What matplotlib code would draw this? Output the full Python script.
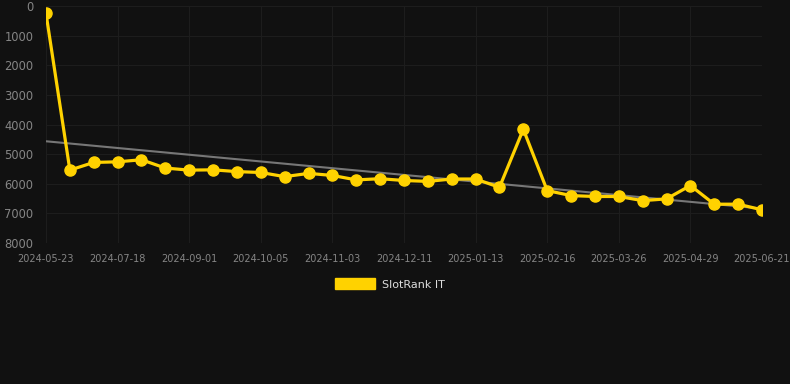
import numpy as np
import matplotlib
matplotlib.use('Agg')
import matplotlib.pyplot as plt
from matplotlib.patches import Patch

# Dữ liệu
dates = ['2024-05-23', '2024-06-10', '2024-06-29', '2024-07-18', '2024-08-03', '2024-08-17',
         '2024-09-01', '2024-09-12', '2024-09-24', '2024-10-05', '2024-10-15', '2024-10-24',
         '2024-11-03', '2024-11-16', '2024-11-28', '2024-12-11', '2024-12-22', '2025-01-02',
         '2025-01-13', '2025-01-24', '2025-02-04', '2025-02-16', '2025-02-28', '2025-03-13',
         '2025-03-26', '2025-04-06', '2025-04-17', '2025-04-29', '2025-05-16', '2025-06-03',
         '2025-06-21']
ranks = [250, 5540, 5280, 5260, 5190, 5470, 5540, 5530, 5590, 5620, 5760, 5650, 5720, 5870,
         5830, 5890, 5920, 5840, 5840, 6120, 4160, 6230, 6400, 6430, 6430, 6570, 6510, 6060,
         6690, 6690, 6880]
series_name = 'SlotRank IT'
y_ticks = [0, 1000, 2000, 3000, 4000, 5000, 6000, 7000, 8000]

bg = '#111111'
gold = '#FFD200'

fig = plt.figure(figsize=(7.9, 3.84), dpi=100, facecolor=bg)
ax = fig.add_axes([46 / 790, 1 - 243 / 384, (762 - 46) / 790, (243 - 6) / 384])
ax.set_facecolor(bg)

x = np.arange(len(ranks))

# Đường xu hướng (hồi quy tuyến tính)
k, b = np.polyfit(x, ranks, 1)
ax.plot(x, k * x + b, color='#777777', linewidth=1.5, zorder=2)

ax.plot(x, ranks, color=gold, linewidth=2.3, marker='o', markersize=8,
        markerfacecolor=gold, markeredgecolor=gold, zorder=3)

ax.set_xlim(0, len(ranks) - 1)
ax.set_ylim(8000, 0)
ax.set_yticks(y_ticks)
ax.set_yticklabels([str(v) for v in y_ticks])
tick_idx = list(range(0, len(dates), 3))
ax.set_xticks(tick_idx)
ax.set_xticklabels([dates[i] for i in tick_idx])

ax.tick_params(axis='y', colors='#858585', labelsize=8.3, length=0, pad=9)
ax.tick_params(axis='x', colors='#858585', labelsize=7, length=0, pad=8)
ax.grid(True, color='#1d1d1d', linewidth=0.8)
for s in ax.spines.values():
    s.set_visible(False)

handle = Patch(facecolor=gold, edgecolor=gold)
fig.legend([handle], [series_name], loc='center', bbox_to_anchor=(390 / 790, 1 - 284 / 384),
           frameon=False, fontsize=8, labelcolor='#dddddd', handlelength=3.6,
           handleheight=1.1, handletextpad=0.6)

fig.savefig('out.png', dpi=100, facecolor=bg)
